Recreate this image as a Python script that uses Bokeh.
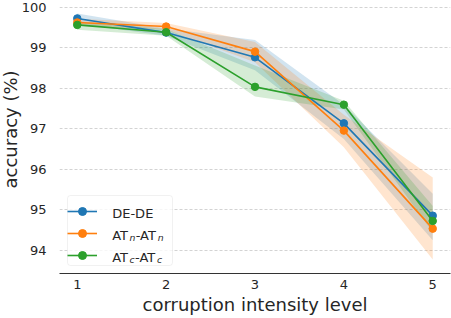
from bokeh.plotting import figure
from bokeh.models import (Range1d, FixedTicker, Legend, LegendItem, Label, Title,
                          BoxAnnotation)
from bokeh.embed import file_html
from bokeh.resources import INLINE

# ---- data ----
levels = [1, 2, 3, 4, 5]

de_mean = [99.73, 99.38, 98.77, 97.14, 94.86]
de_low = [99.60, 99.30, 98.45, 96.75, 94.25]
de_high = [99.85, 99.48, 99.20, 97.60, 95.40]

atn_mean = [99.63, 99.53, 98.91, 96.96, 94.54]
atn_low = [99.55, 99.45, 98.65, 96.55, 93.78]
atn_high = [99.72, 99.62, 99.15, 97.35, 95.80]

atc_mean = [99.57, 99.39, 98.04, 97.60, 94.73]
atc_low = [99.45, 99.30, 97.80, 97.48, 94.45]
atc_high = [99.66, 99.47, 98.57, 97.70, 95.10]

x_ticks = [1, 2, 3, 4, 5]
y_ticks = [94, 95, 96, 97, 98, 99, 100]

x_label = "corruption intensity level"
y_label = "accuracy (%)"

series = [
    ("DE-DE", de_mean, de_low, de_high, "#1f77b4"),
    ("AT_n-AT_n", atn_mean, atn_low, atn_high, "#ff7f0e"),
    ("AT_c-AT_c", atc_mean, atc_low, atc_high, "#2ca02c"),
]

FONT = "DejaVu Sans"
TXT = "#262626"

p = figure(width=451, height=318, output_backend="svg", toolbar_location=None,
           x_range=Range1d(0.8, 5.2), y_range=Range1d(93.432, 100.148),
           min_border_left=59, min_border_right=1, min_border_top=1,
           min_border_bottom=45)
p.outline_line_color = None
p.background_fill_color = "white"
p.border_fill_color = "white"

# grid
p.xgrid.grid_line_color = None
p.ygrid.grid_line_color = "#c8c8c8"
p.ygrid.grid_line_dash = "3 2"
p.ygrid.grid_line_width = 0.8

# axes
p.xaxis.ticker = FixedTicker(ticks=x_ticks)
p.yaxis.ticker = FixedTicker(ticks=y_ticks)
for ax in (p.xaxis, p.yaxis):
    ax.major_tick_out = 0
    ax.major_tick_in = 0
    ax.minor_tick_out = 0
    ax.minor_tick_in = 0
    ax.major_label_text_font = FONT
    ax.major_label_text_font_size = "13px"
    ax.major_label_text_color = TXT
p.yaxis.axis_line_color = None
p.xaxis.axis_line_color = "#333333"
p.xaxis.axis_line_width = 1
p.xaxis.major_label_standoff = 6
p.yaxis.major_label_standoff = 13

# x title as axis label, y title as side-panel title
p.xaxis.axis_label = x_label
p.xaxis.axis_label_standoff = 2
p.xaxis.axis_label_text_font = FONT
p.xaxis.axis_label_text_font_size = "18px"
p.xaxis.axis_label_text_font_style = "normal"
p.xaxis.axis_label_text_color = TXT
p.add_layout(Title(text=y_label, align="left", offset=85, text_font=FONT,
                   text_font_size="18px", text_font_style="normal",
                   text_color=TXT, standoff=-5), "left")

# bands
for name, m, lo, hi, col in series:
    p.varea(x=levels, y1=lo, y2=hi, fill_color=col, fill_alpha=0.2)

items = []
for name, m, lo, hi, col in series:
    lr = p.line(levels, m, line_color=col, line_width=1.6)
    sr = p.scatter(levels, m, size=7.5, fill_color=col, line_color=col)
    items.append(LegendItem(label=" ", renderers=[lr, sr]))

# legend frame (drawn separately so the texts can sit on top)
p.add_layout(BoxAnnotation(left=8, right=113, bottom=8, top=78,
                           left_units="screen", right_units="screen",
                           bottom_units="screen", top_units="screen",
                           fill_color="white", fill_alpha=0.8,
                           line_color="#d0d0d0", line_width=1,
                           border_radius=3))

legend = Legend(items=items, location=(8, 8), margin=0, padding=3, spacing=2,
                glyph_width=30, glyph_height=20, label_standoff=12,
                label_width=57, label_height=20,
                label_text_font=FONT, label_text_font_size="13px",
                border_line_color=None, background_fill_alpha=0)
p.add_layout(legend, "center")


def lab(x, y, t, size="13px", style="normal"):
    p.add_layout(Label(x=x, y=y, x_units="screen", y_units="screen", text=t,
                       text_font=FONT, text_font_size=size, text_font_style=style,
                       text_color=TXT, text_baseline="alphabetic", text_align="left",
                       level="overlay"))


# legend texts (with subscripts)
row_centers = [65, 43, 21]
x0 = 52.7

b = row_centers[0] - 4.7
lab(x0, b, "DE-DE")
b = row_centers[1] - 4.7
lab(x0, b, "AT")
lab(x0 + 17.3, b - 2, "n", "9.3px", "italic")
lab(x0 + 23.5, b, "-AT")
lab(x0 + 45.5, b - 2, "n", "9.3px", "italic")
b = row_centers[2] - 4.7
lab(x0, b, "AT")
lab(x0 + 17.3, b - 2, "c", "9.3px", "italic")
lab(x0 + 22.8, b, "-AT")
lab(x0 + 44.8, b - 2, "c", "9.3px", "italic")

open("out.html", "w").write(file_html(p, INLINE))
